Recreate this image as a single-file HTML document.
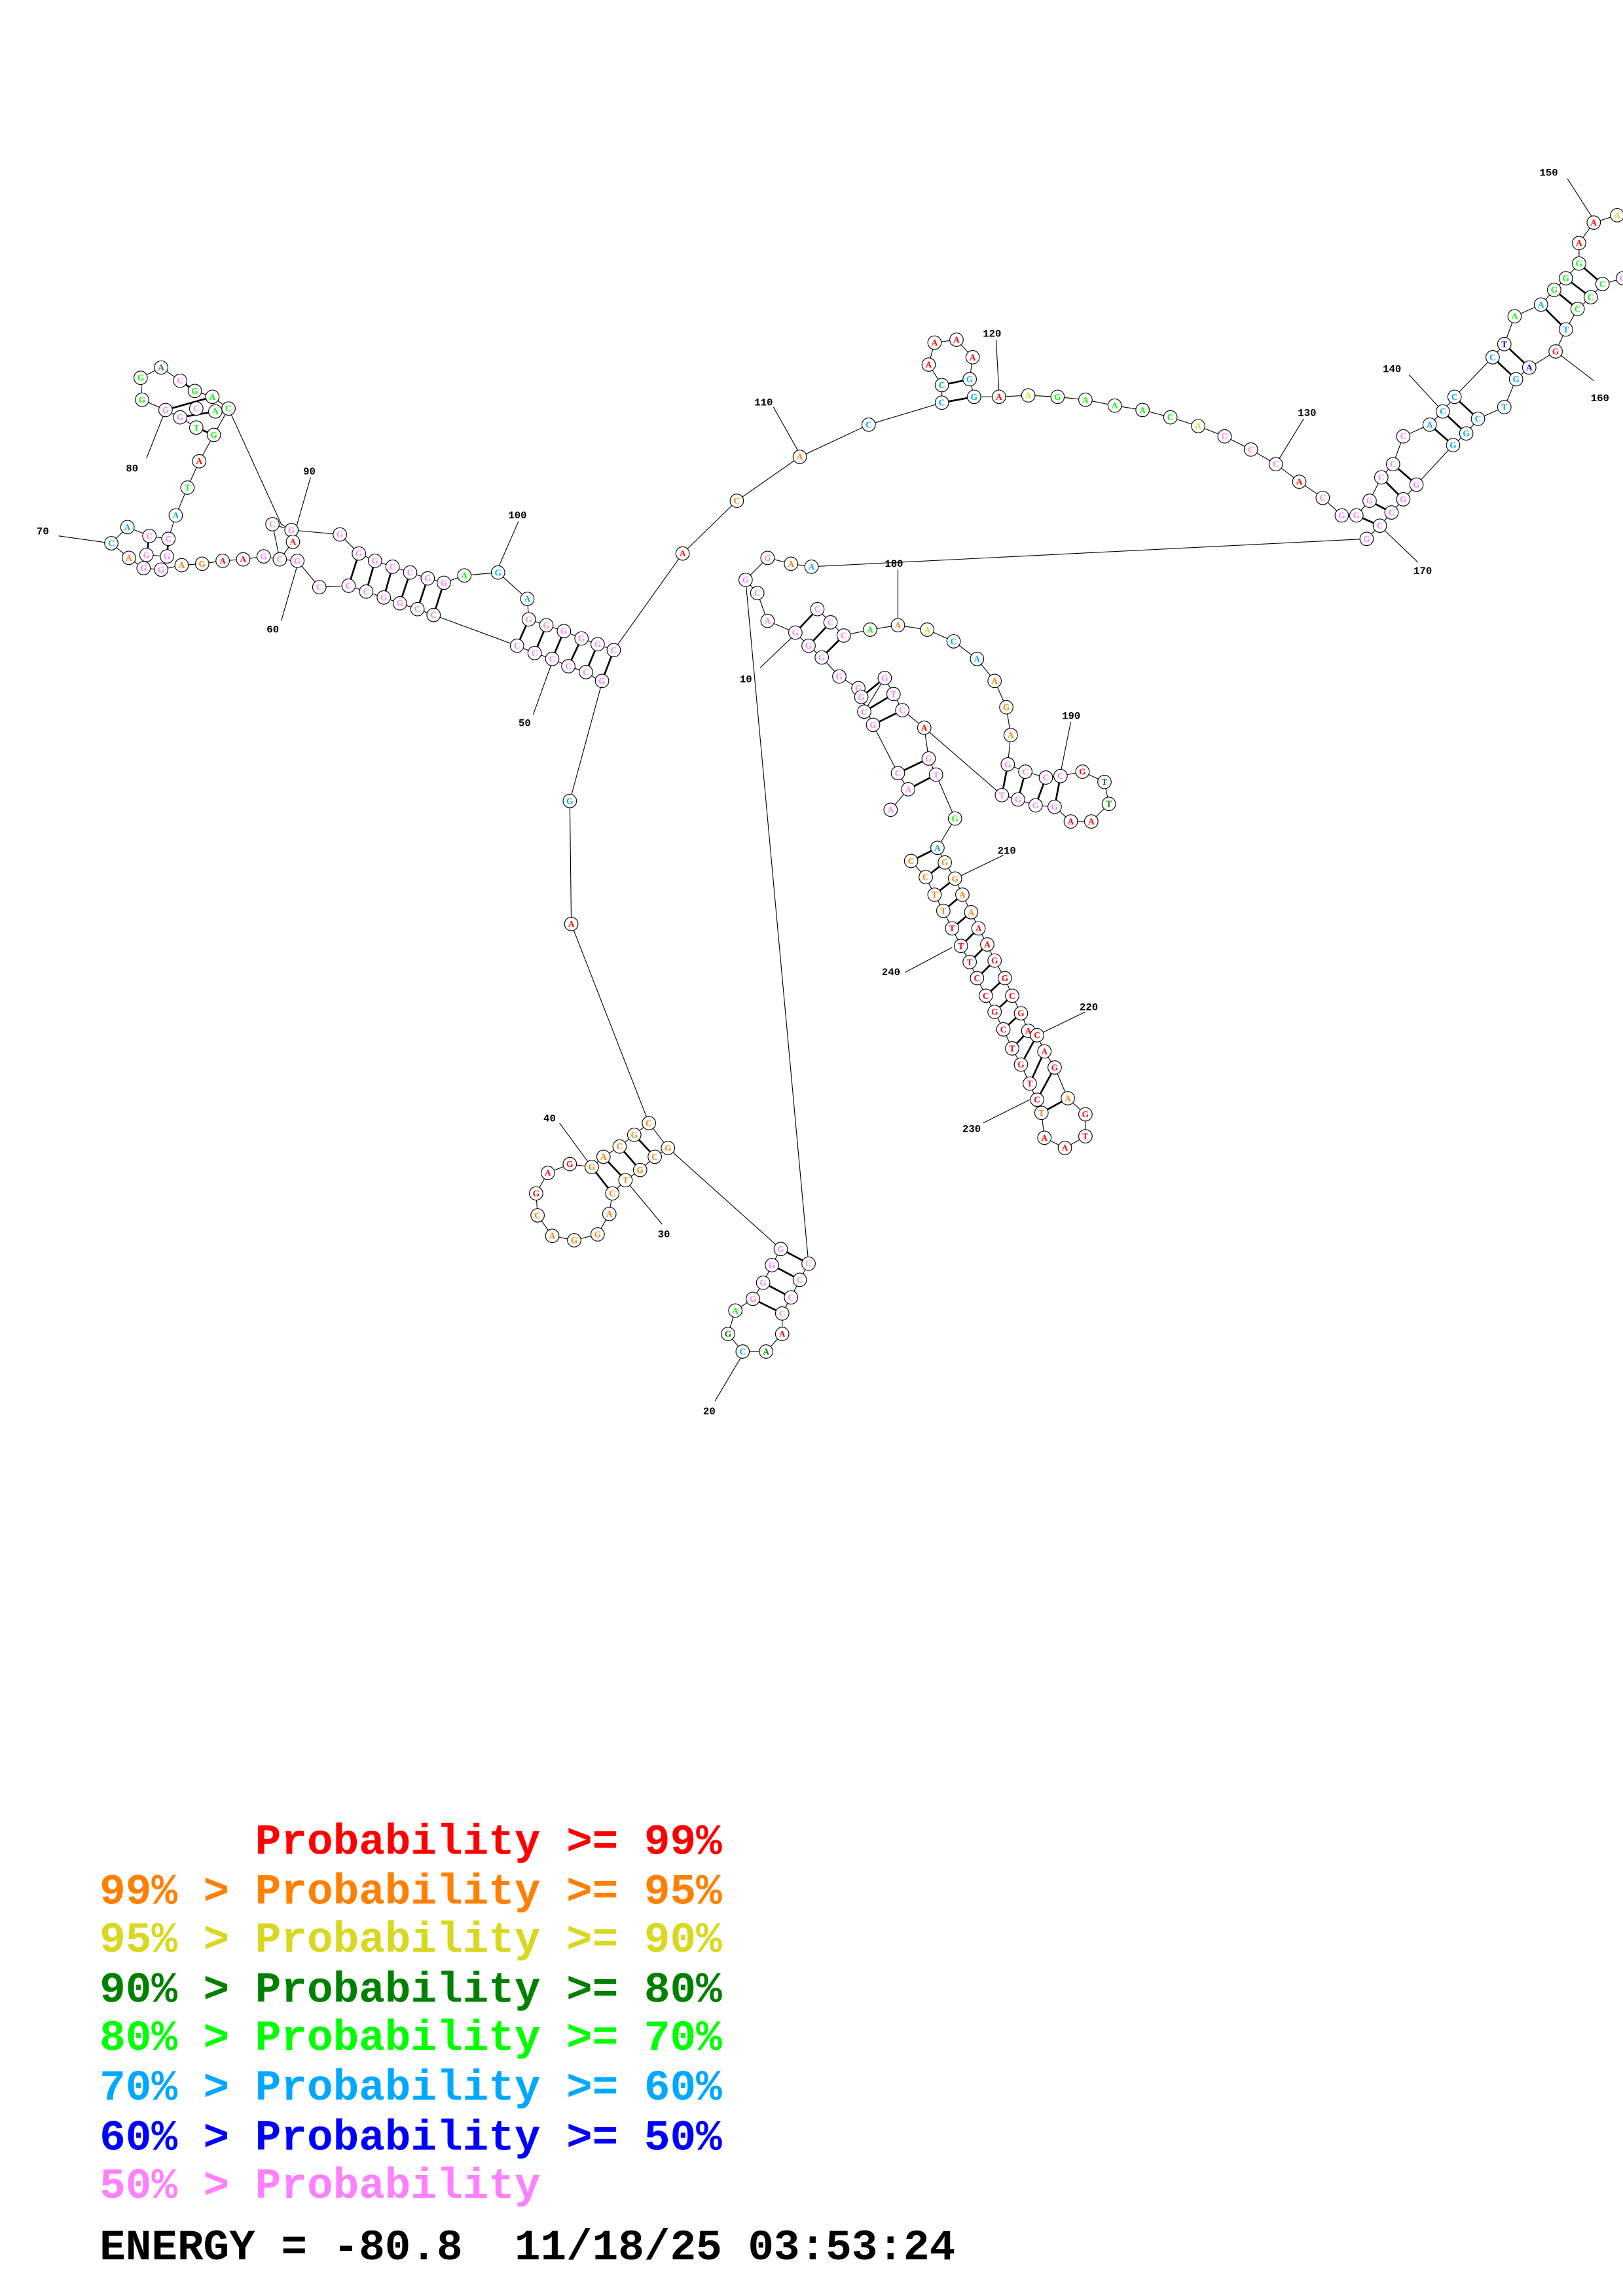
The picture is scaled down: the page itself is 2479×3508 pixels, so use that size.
<!DOCTYPE html>
<html><head><meta charset="utf-8"><style>
html,body{margin:0;padding:0;background:#fff;}
svg{display:block;}
.n circle{fill:#fff;stroke:#000;stroke-width:0.5;}
.n text{font-family:"Liberation Serif",serif;font-weight:bold;font-size:6px;text-anchor:middle;dominant-baseline:central;}
.l{font-family:"Liberation Mono",monospace;font-weight:bold;font-size:7px;fill:#000;}
.bb{fill:none;stroke:#000;stroke-width:0.5;}
.pr{stroke:#000;stroke-width:1.2;}
.lg{font-family:"Liberation Mono",monospace;font-weight:bold;font-size:29.5px;white-space:pre;}
</style></head><body>
<svg width="2479" height="3508" viewBox="0 0 1108 1568" preserveAspectRatio="none" xmlns="http://www.w3.org/2000/svg">
<rect width="1108" height="1568" fill="#fff"/>
<!-- backbone -->
<g class="bb">
<polyline points="509,396 524,381 540,385 554,387 933,368"/>
<polyline points="509,396 517,405 524,424 543,432 552,441 561,449 573,462 586,470 588,476 596,495 613,528 620,539 608,553"/>
<polyline points="543,432 558,416 567,425 576,434 594,430 613,427 633,430 651,438 667,450 679,465 687,483 690,502 688,522 700,527 714,531 724,530 739,527 754,534 757,549 745,561 731,561 720,551 707,550 695,546 684,543 631,497 616,485 610,474 604,463 590,486"/>
<polyline points="631,497 634,518 639,529 652,559 640,579 622,588 632,599 638,611 644,622 650,634 656,646 662,657 667,668 673,680 679,691 685,703 691,716 697,727 703,740 711,760 713,777 727,784 741,776 741,761 729,750 720,729 713,718 708,707 702,704 697,692 691,680 686,668 679,656 674,645 668,634 663,623 657,611 652,600 645,589 640,579"/>
<polyline points="509,396 552,863 533,853 527,864 521,876 514,887 502,895 497,911 507,923 523,923 534,911 534,897 540,886 546,874 552,863"/>
<polyline points="533,853 456,784 443,767 433,775 423,783 412,790 404,797 389,795 374,801 366,815 367,830 377,844 392,847 408,843 416,829 418,815 427,806 437,799 447,790 456,784"/>
<polyline points="443,767 390,631 389,547 411,466 400,459 388,455 377,450 365,446 353,441 296,420 285,416 273,412 262,408 250,404 238,400 218,401 203,383 191,382 180,380 166,382 152,383 138,385 124,386 110,389 98,388 88,381 76,371 87,360 102,366 115,368 120,352 128,333 136,315 146,297 156,279 192,358 199,362 232,365 245,378 256,383 268,387 280,391 292,395 303,398 317,393 340,391 360,409 361,423 373,427 385,431 397,436 408,440 419,444 466,378 503,342 546,312 593,290 643,275 643,263 634,249 638,234 653,232 664,244 662,259 665,271 682,271 702,270 722,271 741,273 761,277 780,280 799,285 818,291 836,298 854,307 871,317 887,329 903,340 916,352 926,352 935,342 943,326 951,317 958,298 976,290 985,281 993,271 1019,244 1027,235 1034,216 1052,208 1061,198 1069,190 1078,180 1078,166 1088,152 1104,147"/>
<polyline points="1108,190 1094,194 1086,203 1077,211 1069,225 1062,240 1044,251 1035,259 1027,278 1009,286 1001,296 992,304 967,331 958,341 950,350 942,359 933,368"/>
<polyline points="146,297 134,292 123,285 113,280 97,273 96,258 110,251 123,260 133,267 145,271 156,279"/>
<polyline points="102,366 100,379 114,380 115,368"/>
<polyline points="199,362 200,370 191,382 186,358 199,362"/>
</g>
<!-- pairs -->
<g class="pr">
<line x1="361" y1="423" x2="353" y2="441"/><line x1="373" y1="427" x2="365" y2="446"/><line x1="385" y1="431" x2="377" y2="450"/><line x1="397" y1="436" x2="388" y2="455"/><line x1="408" y1="440" x2="400" y2="459"/><line x1="419" y1="444" x2="411" y2="465"/>
<line x1="245" y1="378" x2="238" y2="400"/><line x1="256" y1="383" x2="250" y2="404"/><line x1="268" y1="387" x2="262" y2="408"/><line x1="280" y1="391" x2="273" y2="412"/><line x1="292" y1="395" x2="285" y2="416"/><line x1="303" y1="398" x2="296" y2="420"/>
<line x1="134" y1="292" x2="146" y2="297"/><line x1="123" y1="285" x2="147" y2="281"/><line x1="113" y1="280" x2="145" y2="271"/><line x1="123" y1="260" x2="133" y2="267"/>
<line x1="102" y1="366" x2="100" y2="379"/><line x1="115" y1="368" x2="114" y2="380"/>
<line x1="527" y1="864" x2="546" y2="874"/><line x1="521" y1="876" x2="540" y2="886"/><line x1="514" y1="887" x2="534" y2="897"/><line x1="533" y1="853" x2="552" y2="863"/>
<line x1="433" y1="775" x2="447" y2="790"/><line x1="423" y1="783" x2="437" y2="799"/><line x1="412" y1="790" x2="427" y2="806"/><line x1="404" y1="797" x2="418" y2="815"/>
<line x1="643" y1="263" x2="662" y2="259"/><line x1="643" y1="275" x2="665" y2="271"/>
<line x1="558" y1="416" x2="543" y2="432"/><line x1="567" y1="425" x2="552" y2="441"/><line x1="576" y1="434" x2="561" y2="449"/>
<line x1="604" y1="463" x2="588" y2="476"/><line x1="610" y1="474" x2="590" y2="486"/><line x1="616" y1="485" x2="596" y2="495"/>
<line x1="634" y1="518" x2="613" y2="528"/><line x1="639" y1="529" x2="620" y2="539"/>
<line x1="688" y1="522" x2="684" y2="543"/><line x1="700" y1="527" x2="695" y2="546"/><line x1="714" y1="531" x2="707" y2="550"/><line x1="724" y1="530" x2="720" y2="551"/>
<line x1="640" y1="579" x2="622" y2="588"/><line x1="645" y1="589" x2="632" y2="599"/><line x1="652" y1="600" x2="638" y2="611"/><line x1="657" y1="611" x2="644" y2="622"/><line x1="663" y1="623" x2="650" y2="634"/><line x1="668" y1="634" x2="656" y2="646"/><line x1="674" y1="645" x2="662" y2="657"/><line x1="679" y1="656" x2="667" y2="668"/><line x1="686" y1="668" x2="673" y2="680"/><line x1="691" y1="680" x2="679" y2="691"/><line x1="697" y1="692" x2="685" y2="703"/><line x1="702" y1="704" x2="691" y2="716"/><line x1="708" y1="707" x2="697" y2="727"/><line x1="713" y1="718" x2="703" y2="740"/><line x1="720" y1="729" x2="708" y2="751"/><line x1="729" y1="750" x2="711" y2="760"/>
<line x1="926" y1="352" x2="942" y2="359"/><line x1="935" y1="342" x2="950" y2="350"/><line x1="943" y1="326" x2="958" y2="341"/><line x1="951" y1="317" x2="967" y2="331"/>
<line x1="976" y1="290" x2="992" y2="304"/><line x1="985" y1="281" x2="1001" y2="296"/><line x1="993" y1="271" x2="1009" y2="286"/><line x1="1019" y1="244" x2="1035" y2="259"/><line x1="1027" y1="235" x2="1044" y2="251"/><line x1="1052" y1="208" x2="1069" y2="225"/><line x1="1061" y1="198" x2="1077" y2="211"/><line x1="1069" y1="190" x2="1086" y2="203"/><line x1="1078" y1="180" x2="1094" y2="194"/>
</g>
<!-- label leaders -->
<g class="bb">
<line x1="1070" y1="122" x2="1088" y2="150"/><line x1="1088" y1="260" x2="1062" y2="240"/><line x1="962" y1="256" x2="985" y2="281"/><line x1="890" y1="286" x2="871" y2="317"/><line x1="680" y1="232" x2="682" y2="268"/><line x1="528" y1="278" x2="546" y2="310"/><line x1="354" y1="356" x2="340" y2="388"/><line x1="212" y1="326" x2="200" y2="368"/><line x1="100" y1="313" x2="113" y2="280"/><line x1="40" y1="366" x2="76" y2="371"/><line x1="192" y1="424" x2="203" y2="386"/><line x1="364" y1="488" x2="377" y2="452"/><line x1="382" y1="767" x2="404" y2="797"/><line x1="452" y1="836" x2="427" y2="806"/><line x1="488" y1="957" x2="507" y2="925"/><line x1="519" y1="456" x2="543" y2="433"/><line x1="613" y1="389" x2="613" y2="425"/><line x1="731" y1="493" x2="724" y2="528"/><line x1="685" y1="584" x2="652" y2="600"/><line x1="741" y1="691" x2="708" y2="707"/><line x1="671" y1="767" x2="703" y2="751"/><line x1="618" y1="664" x2="650" y2="647"/><line x1="968" y1="384" x2="945" y2="362"/>
</g>
<g class="l">
<text x="1051" y="120">150</text><text x="1086" y="274">160</text><text x="944" y="254">140</text><text x="886" y="284">130</text><text x="671" y="230">120</text><text x="515" y="277">110</text><text x="347" y="354">100</text><text x="207" y="324">90</text><text x="86" y="322">80</text><text x="25" y="365">70</text><text x="182" y="432">60</text><text x="354" y="496">50</text><text x="371" y="766">40</text><text x="449" y="845">30</text><text x="480" y="966">20</text><text x="505" y="466">10</text><text x="604" y="387">180</text><text x="725" y="491">190</text><text x="681" y="583">210</text><text x="737" y="690">220</text><text x="657" y="773">230</text><text x="602" y="666">240</text><text x="965" y="392">170</text>
</g>
<!-- nodes -->
<g class="n">
<!-- pink nodes -->
<g fill="#ff80ff">
<circle cx="524" cy="381" r="4.6"/><circle cx="509" cy="396" r="4.6"/><circle cx="517" cy="405" r="4.6"/><circle cx="524" cy="424" r="4.6"/><circle cx="543" cy="432" r="4.6"/><circle cx="552" cy="441" r="4.6"/><circle cx="561" cy="449" r="4.6"/><circle cx="573" cy="462" r="4.6"/><circle cx="586" cy="470" r="4.6"/><circle cx="558" cy="416" r="4.6"/><circle cx="567" cy="425" r="4.6"/><circle cx="576" cy="434" r="4.6"/>
<circle cx="688" cy="522" r="4.6"/><circle cx="700" cy="527" r="4.6"/><circle cx="714" cy="531" r="4.6"/><circle cx="724" cy="530" r="4.6"/><circle cx="720" cy="551" r="4.6"/><circle cx="707" cy="550" r="4.6"/><circle cx="695" cy="546" r="4.6"/><circle cx="684" cy="543" r="4.6"/>
<circle cx="588" cy="476" r="4.6"/><circle cx="604" cy="463" r="4.6"/><circle cx="610" cy="474" r="4.6"/><circle cx="616" cy="485" r="4.6"/><circle cx="596" cy="495" r="4.6"/><circle cx="590" cy="486" r="4.6"/><circle cx="634" cy="518" r="4.6"/><circle cx="639" cy="529" r="4.6"/><circle cx="613" cy="528" r="4.6"/><circle cx="620" cy="539" r="4.6"/><circle cx="608" cy="553" r="4.6"/>
<circle cx="533" cy="853" r="4.6"/><circle cx="552" cy="863" r="4.6"/><circle cx="527" cy="864" r="4.6"/><circle cx="546" cy="874" r="4.6"/><circle cx="521" cy="876" r="4.6"/><circle cx="540" cy="886" r="4.6"/><circle cx="514" cy="887" r="4.6"/><circle cx="534" cy="897" r="4.6"/>
<circle cx="361" cy="423" r="4.6"/><circle cx="373" cy="427" r="4.6"/><circle cx="385" cy="431" r="4.6"/><circle cx="397" cy="436" r="4.6"/><circle cx="408" cy="440" r="4.6"/><circle cx="419" cy="444" r="4.6"/><circle cx="353" cy="441" r="4.6"/><circle cx="365" cy="446" r="4.6"/><circle cx="377" cy="450" r="4.6"/><circle cx="388" cy="455" r="4.6"/><circle cx="400" cy="459" r="4.6"/><circle cx="411" cy="465" r="4.6"/>
<circle cx="186" cy="358" r="4.6"/><circle cx="199" cy="362" r="4.6"/><circle cx="191" cy="382" r="4.6"/><circle cx="203" cy="383" r="4.6"/><circle cx="218" cy="401" r="4.6"/><circle cx="232" cy="365" r="4.6"/><circle cx="245" cy="378" r="4.6"/><circle cx="256" cy="383" r="4.6"/><circle cx="268" cy="387" r="4.6"/><circle cx="280" cy="391" r="4.6"/><circle cx="292" cy="395" r="4.6"/><circle cx="303" cy="398" r="4.6"/><circle cx="238" cy="400" r="4.6"/><circle cx="250" cy="404" r="4.6"/><circle cx="262" cy="408" r="4.6"/><circle cx="273" cy="412" r="4.6"/><circle cx="285" cy="416" r="4.6"/><circle cx="296" cy="420" r="4.6"/>
<circle cx="180" cy="380" r="4.6"/><circle cx="110" cy="389" r="4.6"/><circle cx="98" cy="388" r="4.6"/><circle cx="102" cy="366" r="4.6"/><circle cx="115" cy="368" r="4.6"/><circle cx="114" cy="380" r="4.6"/><circle cx="100" cy="379" r="4.6"/><circle cx="134" cy="279" r="4.6"/><circle cx="123" cy="285" r="4.6"/><circle cx="113" cy="280" r="4.6"/><circle cx="123" cy="260" r="4.6"/>
<circle cx="836" cy="298" r="4.6"/><circle cx="854" cy="307" r="4.6"/><circle cx="871" cy="317" r="4.6"/><circle cx="903" cy="340" r="4.6"/><circle cx="916" cy="352" r="4.6"/><circle cx="933" cy="368" r="4.6"/><circle cx="926" cy="352" r="4.6"/><circle cx="935" cy="342" r="4.6"/><circle cx="943" cy="326" r="4.6"/><circle cx="951" cy="317" r="4.6"/><circle cx="958" cy="298" r="4.6"/><circle cx="942" cy="359" r="4.6"/><circle cx="950" cy="350" r="4.6"/><circle cx="958" cy="341" r="4.6"/><circle cx="967" cy="331" r="4.6"/><circle cx="1108" cy="190" r="4.6"/>
</g>
</g>
<!-- colored circles (non-pink) -->
<g class="n">
<circle cx="540" cy="385" r="4.6"/><circle cx="554" cy="387" r="4.6"/><circle cx="594" cy="430" r="4.6"/><circle cx="613" cy="427" r="4.6"/><circle cx="633" cy="430" r="4.6"/><circle cx="651" cy="438" r="4.6"/><circle cx="667" cy="450" r="4.6"/><circle cx="679" cy="465" r="4.6"/><circle cx="687" cy="483" r="4.6"/><circle cx="690" cy="502" r="4.6"/><circle cx="739" cy="527" r="4.6"/><circle cx="754" cy="534" r="4.6"/><circle cx="757" cy="549" r="4.6"/><circle cx="745" cy="561" r="4.6"/><circle cx="731" cy="561" r="4.6"/><circle cx="631" cy="497" r="4.6"/><circle cx="652" cy="559" r="4.6"/>
<circle cx="640" cy="579" r="4.6"/><circle cx="622" cy="588" r="4.6"/><circle cx="645" cy="589" r="4.6"/><circle cx="632" cy="599" r="4.6"/><circle cx="652" cy="600" r="4.6"/><circle cx="638" cy="611" r="4.6"/><circle cx="657" cy="611" r="4.6"/><circle cx="644" cy="622" r="4.6"/><circle cx="663" cy="623" r="4.6"/><circle cx="650" cy="634" r="4.6"/><circle cx="668" cy="634" r="4.6"/><circle cx="656" cy="646" r="4.6"/><circle cx="674" cy="645" r="4.6"/><circle cx="662" cy="657" r="4.6"/><circle cx="679" cy="656" r="4.6"/><circle cx="667" cy="668" r="4.6"/><circle cx="686" cy="668" r="4.6"/><circle cx="673" cy="680" r="4.6"/><circle cx="691" cy="680" r="4.6"/><circle cx="679" cy="691" r="4.6"/><circle cx="697" cy="692" r="4.6"/><circle cx="685" cy="703" r="4.6"/><circle cx="702" cy="704" r="4.6"/><circle cx="691" cy="716" r="4.6"/><circle cx="708" cy="707" r="4.6"/><circle cx="697" cy="727" r="4.6"/><circle cx="713" cy="718" r="4.6"/><circle cx="703" cy="740" r="4.6"/><circle cx="720" cy="729" r="4.6"/><circle cx="708" cy="751" r="4.6"/><circle cx="729" cy="750" r="4.6"/><circle cx="711" cy="760" r="4.6"/><circle cx="713" cy="777" r="4.6"/><circle cx="727" cy="784" r="4.6"/><circle cx="741" cy="776" r="4.6"/><circle cx="741" cy="761" r="4.6"/>
<circle cx="502" cy="895" r="4.6"/><circle cx="497" cy="911" r="4.6"/><circle cx="507" cy="923" r="4.6"/><circle cx="523" cy="923" r="4.6"/><circle cx="534" cy="911" r="4.6"/>
<circle cx="443" cy="767" r="4.6"/><circle cx="456" cy="784" r="4.6"/><circle cx="433" cy="775" r="4.6"/><circle cx="447" cy="790" r="4.6"/><circle cx="423" cy="783" r="4.6"/><circle cx="437" cy="799" r="4.6"/><circle cx="412" cy="790" r="4.6"/><circle cx="427" cy="806" r="4.6"/><circle cx="404" cy="797" r="4.6"/><circle cx="418" cy="815" r="4.6"/><circle cx="416" cy="829" r="4.6"/><circle cx="408" cy="843" r="4.6"/><circle cx="392" cy="847" r="4.6"/><circle cx="377" cy="844" r="4.6"/><circle cx="367" cy="830" r="4.6"/><circle cx="366" cy="815" r="4.6"/><circle cx="374" cy="801" r="4.6"/><circle cx="389" cy="795" r="4.6"/>
<circle cx="390" cy="631" r="4.6"/><circle cx="389" cy="547" r="4.6"/><circle cx="360" cy="409" r="4.6"/><circle cx="340" cy="391" r="4.6"/><circle cx="317" cy="393" r="4.6"/><circle cx="200" cy="370" r="4.6"/>
<circle cx="166" cy="382" r="4.6"/><circle cx="152" cy="383" r="4.6"/><circle cx="138" cy="385" r="4.6"/><circle cx="124" cy="386" r="4.6"/><circle cx="88" cy="381" r="4.6"/><circle cx="76" cy="371" r="4.6"/><circle cx="87" cy="360" r="4.6"/><circle cx="120" cy="352" r="4.6"/><circle cx="128" cy="333" r="4.6"/><circle cx="136" cy="315" r="4.6"/><circle cx="146" cy="297" r="4.6"/><circle cx="134" cy="292" r="4.6"/><circle cx="147" cy="281" r="4.6"/><circle cx="156" cy="279" r="4.6"/><circle cx="145" cy="271" r="4.6"/><circle cx="133" cy="267" r="4.6"/><circle cx="97" cy="273" r="4.6"/><circle cx="96" cy="258" r="4.6"/><circle cx="110" cy="251" r="4.6"/>
<circle cx="466" cy="378" r="4.6"/><circle cx="503" cy="342" r="4.6"/><circle cx="546" cy="312" r="4.6"/><circle cx="593" cy="290" r="4.6"/><circle cx="643" cy="275" r="4.6"/><circle cx="665" cy="271" r="4.6"/><circle cx="643" cy="263" r="4.6"/><circle cx="662" cy="259" r="4.6"/><circle cx="634" cy="249" r="4.6"/><circle cx="638" cy="234" r="4.6"/><circle cx="653" cy="232" r="4.6"/><circle cx="664" cy="244" r="4.6"/><circle cx="682" cy="271" r="4.6"/><circle cx="702" cy="270" r="4.6"/><circle cx="722" cy="271" r="4.6"/><circle cx="741" cy="273" r="4.6"/><circle cx="761" cy="277" r="4.6"/><circle cx="780" cy="280" r="4.6"/><circle cx="799" cy="285" r="4.6"/><circle cx="818" cy="291" r="4.6"/><circle cx="887" cy="329" r="4.6"/>
<circle cx="976" cy="290" r="4.6"/><circle cx="985" cy="281" r="4.6"/><circle cx="993" cy="271" r="4.6"/><circle cx="1019" cy="244" r="4.6"/><circle cx="1027" cy="235" r="4.6"/><circle cx="1034" cy="216" r="4.6"/><circle cx="1052" cy="208" r="4.6"/><circle cx="1061" cy="198" r="4.6"/><circle cx="1069" cy="190" r="4.6"/><circle cx="1078" cy="180" r="4.6"/><circle cx="1078" cy="166" r="4.6"/><circle cx="1088" cy="152" r="4.6"/><circle cx="1104" cy="147" r="4.6"/>
<circle cx="992" cy="304" r="4.6"/><circle cx="1001" cy="296" r="4.6"/><circle cx="1009" cy="286" r="4.6"/><circle cx="1027" cy="278" r="4.6"/><circle cx="1035" cy="259" r="4.6"/><circle cx="1044" cy="251" r="4.6"/><circle cx="1069" cy="225" r="4.6"/><circle cx="1062" cy="240" r="4.6"/><circle cx="1077" cy="211" r="4.6"/><circle cx="1086" cy="203" r="4.6"/><circle cx="1094" cy="194" r="4.6"/>
</g>
<!-- letters -->
<g class="n">
<g fill="#ff80ff">
<text x="524" y="381">G</text><text x="509" y="396">G</text><text x="517" y="405">C</text><text x="524" y="424">A</text><text x="543" y="432">G</text><text x="552" y="441">G</text><text x="561" y="449">G</text><text x="573" y="462">G</text><text x="586" y="470">G</text><text x="558" y="416">C</text><text x="567" y="425">C</text><text x="576" y="434">C</text>
<text x="688" y="522">G</text><text x="700" y="527">C</text><text x="714" y="531">C</text><text x="724" y="530">C</text><text x="720" y="551">G</text><text x="707" y="550">G</text><text x="695" y="546">G</text><text x="684" y="543">T</text>
<text x="588" y="476">G</text><text x="604" y="463">G</text><text x="610" y="474">T</text><text x="616" y="485">C</text><text x="596" y="495">G</text><text x="590" y="486">C</text><text x="634" y="518">G</text><text x="639" y="529">T</text><text x="613" y="528">C</text><text x="620" y="539">A</text><text x="608" y="553">A</text>
<text x="533" y="853">G</text><text x="552" y="863">C</text><text x="527" y="864">G</text><text x="546" y="874">C</text><text x="521" y="876">G</text><text x="540" y="886">C</text><text x="514" y="887">G</text><text x="534" y="897">C</text>
<text x="361" y="423">G</text><text x="373" y="427">G</text><text x="385" y="431">G</text><text x="397" y="436">G</text><text x="408" y="440">G</text><text x="419" y="444">C</text><text x="353" y="441">C</text><text x="365" y="446">C</text><text x="377" y="450">C</text><text x="388" y="455">C</text><text x="400" y="459">C</text><text x="411" y="465">G</text>
<text x="186" y="358">C</text><text x="199" y="362">G</text><text x="191" y="382">C</text><text x="203" y="383">G</text><text x="218" y="401">C</text><text x="232" y="365">G</text><text x="245" y="378">G</text><text x="256" y="383">G</text><text x="268" y="387">C</text><text x="280" y="391">C</text><text x="292" y="395">G</text><text x="303" y="398">G</text><text x="238" y="400">C</text><text x="250" y="404">C</text><text x="262" y="408">G</text><text x="273" y="412">G</text><text x="285" y="416">C</text><text x="296" y="420">C</text>
<text x="180" y="380">G</text><text x="110" y="389">G</text><text x="98" y="388">G</text><text x="102" y="366">C</text><text x="115" y="368">C</text><text x="114" y="380">G</text><text x="100" y="379">G</text><text x="134" y="279">C</text><text x="123" y="285">G</text><text x="113" y="280">G</text><text x="123" y="260">C</text>
<text x="836" y="298">C</text><text x="854" y="307">C</text><text x="871" y="317">C</text><text x="903" y="340">C</text><text x="916" y="352">G</text><text x="933" y="368">G</text><text x="926" y="352">G</text><text x="935" y="342">G</text><text x="943" y="326">C</text><text x="951" y="317">C</text><text x="958" y="298">C</text><text x="942" y="359">C</text><text x="950" y="350">C</text><text x="958" y="341">G</text><text x="967" y="331">G</text><text x="1108" y="190">G</text>
</g>
<g fill="#ff8000">
<text x="540" y="385">A</text><text x="613" y="427">A</text><text x="679" y="465">A</text><text x="687" y="483">G</text><text x="690" y="502">A</text>
<text x="645" y="589">G</text><text x="632" y="599">C</text><text x="652" y="600">G</text><text x="638" y="611">T</text><text x="657" y="611">A</text><text x="644" y="622">T</text><text x="663" y="623">A</text><text x="622" y="588">C</text><text x="729" y="750">A</text><text x="711" y="760">T</text>
<text x="443" y="767">C</text><text x="456" y="784">G</text><text x="433" y="775">G</text><text x="447" y="790">C</text><text x="423" y="783">C</text><text x="437" y="799">G</text><text x="412" y="790">A</text><text x="427" y="806">T</text><text x="404" y="797">G</text><text x="418" y="815">C</text><text x="416" y="829">A</text><text x="408" y="843">G</text><text x="392" y="847">G</text><text x="377" y="844">A</text><text x="367" y="830">C</text>
<text x="138" y="385">G</text><text x="124" y="386">A</text><text x="88" y="381">A</text><text x="503" y="342">C</text><text x="546" y="312">A</text>
</g>
<g fill="#ff0000">
<text x="739" y="527">G</text><text x="745" y="561">A</text><text x="731" y="561">A</text><text x="631" y="497">A</text>
<text x="650" y="634">T</text><text x="668" y="634">A</text><text x="656" y="646">T</text><text x="674" y="645">A</text><text x="662" y="657">T</text><text x="679" y="656">G</text><text x="667" y="668">C</text><text x="686" y="668">G</text><text x="673" y="680">C</text><text x="691" y="680">C</text><text x="679" y="691">G</text><text x="697" y="692">G</text><text x="685" y="703">C</text><text x="702" y="704">A</text><text x="691" y="716">T</text><text x="708" y="707">C</text><text x="697" y="727">G</text><text x="713" y="718">A</text><text x="703" y="740">T</text><text x="720" y="729">G</text><text x="708" y="751">C</text><text x="713" y="777">A</text><text x="727" y="784">A</text><text x="741" y="776">T</text><text x="741" y="761">G</text>
<text x="534" y="911">A</text><text x="366" y="815">G</text><text x="374" y="801">A</text><text x="389" y="795">G</text><text x="390" y="631">A</text><text x="200" y="370">A</text><text x="166" y="382">A</text><text x="152" y="383">A</text><text x="136" y="315">A</text>
<text x="466" y="378">A</text><text x="634" y="249">A</text><text x="638" y="234">A</text><text x="653" y="232">A</text><text x="664" y="244">A</text><text x="682" y="271">A</text><text x="887" y="329">A</text><text x="1078" y="166">A</text><text x="1088" y="152">A</text><text x="1062" y="240">G</text>
</g>
<g fill="#00a8ff">
<text x="554" y="387">A</text><text x="651" y="438">C</text><text x="667" y="450">A</text><text x="640" y="579">A</text><text x="507" y="923">C</text><text x="389" y="547">G</text><text x="360" y="409">A</text><text x="340" y="391">G</text><text x="76" y="371">C</text><text x="87" y="360">A</text><text x="120" y="352">A</text>
<text x="593" y="290">C</text><text x="643" y="275">C</text><text x="665" y="271">G</text><text x="643" y="263">C</text><text x="662" y="259">G</text>
<text x="976" y="290">A</text><text x="985" y="281">C</text><text x="993" y="271">C</text><text x="1019" y="244">C</text><text x="1052" y="208">A</text><text x="992" y="304">G</text><text x="1001" y="296">G</text><text x="1009" y="286">C</text><text x="1027" y="278">T</text><text x="1035" y="259">G</text><text x="1069" y="225">T</text>
</g>
<g fill="#d8d820"><text x="633" y="430">A</text><text x="702" y="270">A</text><text x="818" y="291">A</text><text x="1104" y="147">A</text></g>
<g fill="#008000"><text x="754" y="534">T</text><text x="757" y="549">T</text><text x="497" y="911">G</text><text x="523" y="923">A</text><text x="110" y="251">A</text></g>
<g fill="#00ff00">
<text x="594" y="430">A</text><text x="652" y="559">G</text><text x="502" y="895">A</text><text x="317" y="393">A</text><text x="128" y="333">T</text><text x="146" y="297">G</text><text x="134" y="292">T</text><text x="147" y="281">A</text><text x="156" y="279">C</text><text x="145" y="271">A</text><text x="133" y="267">G</text><text x="97" y="273">G</text><text x="96" y="258">G</text>
<text x="722" y="271">G</text><text x="741" y="273">A</text><text x="761" y="277">A</text><text x="780" y="280">A</text><text x="799" y="285">C</text><text x="1034" y="216">A</text><text x="1061" y="198">G</text><text x="1069" y="190">G</text><text x="1078" y="180">G</text><text x="1077" y="211">C</text><text x="1086" y="203">C</text><text x="1094" y="194">C</text>
</g>
<g fill="#0000ff"><text x="1027" y="235">T</text><text x="1044" y="251">A</text></g>
</g>
<!-- legend -->
<text class="lg" x="68" y="1266" fill="#ff0000">      Probability &gt;= 99%</text>
<text class="lg" x="68" y="1300" fill="#ff8000">99% &gt; Probability &gt;= 95%</text>
<text class="lg" x="68" y="1333" fill="#d8d820">95% &gt; Probability &gt;= 90%</text>
<text class="lg" x="68" y="1367" fill="#008000">90% &gt; Probability &gt;= 80%</text>
<text class="lg" x="68" y="1400" fill="#00ff00">80% &gt; Probability &gt;= 70%</text>
<text class="lg" x="68" y="1434" fill="#00a8ff">70% &gt; Probability &gt;= 60%</text>
<text class="lg" x="68" y="1468" fill="#0000ff">60% &gt; Probability &gt;= 50%</text>
<text class="lg" x="68" y="1501" fill="#ff80ff">50% &gt; Probability</text>
<text class="lg" x="68" y="1543" fill="#000">ENERGY = -80.8  11/18/25 03:53:24</text>
</svg>
</body></html>
